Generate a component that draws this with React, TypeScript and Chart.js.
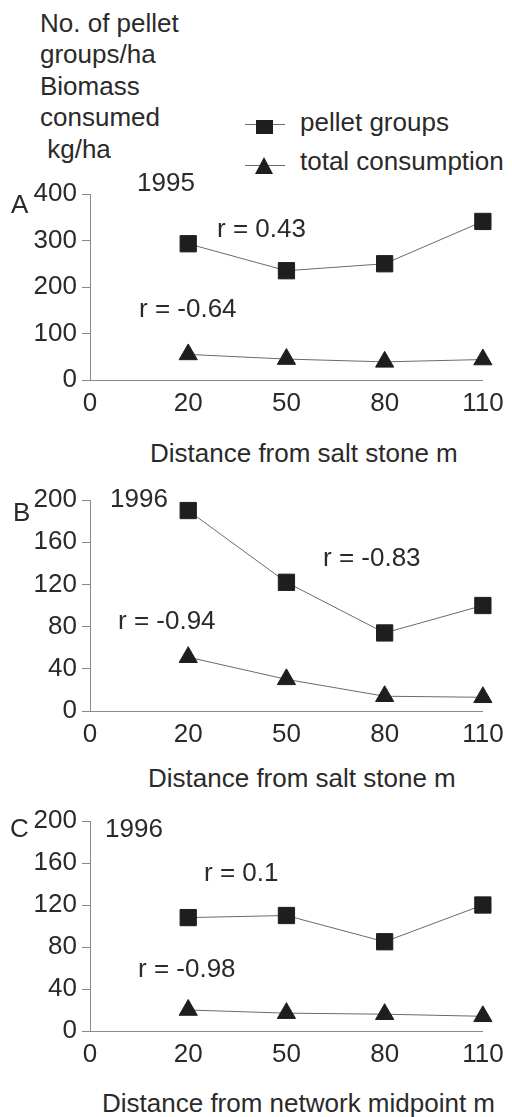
import React, { useEffect, useRef } from 'react';
import { Chart, registerables } from 'chart.js';

Chart.register(...registerables);

// ---------- data ----------
const distanceLabels = ['0', '20', '50', '80', '110'];

const pelletA = [null, 293, 235, 250, 341];
const consumptionA = [null, 55, 45, 39, 44];

const pelletB = [null, 190, 122, 74, 100];
const consumptionB = [null, 51, 30, 14, 13];

const pelletC = [null, 108, 110, 85, 120];
const consumptionC = [null, 20, 17, 16, 14];

const yTicksA = [0, 100, 200, 300, 400];
const yTicksBC = [0, 40, 80, 120, 160, 200];

const seriesNames = ['pellet groups', 'total consumption'];
const headerLines = ['No. of pellet', 'groups/ha', 'Biomass', 'consumed', ' kg/ha'];

// ---------- style ----------
const FONT = "'Liberation Sans', Arial, Helvetica, sans-serif";
const FS = 26;
const TEXT = '#2a2a2a';
const LINE = '#6a6a6a';
const MARK = '#1e1e1e';
const AXIS = '#8a8a8a';

type PanelProps = {
  pellet: (number | null)[];
  consumption: (number | null)[];
  yTicks: number[];
  canvasTop: number;
  plotTop: number;
  plotBottom: number;
};

const X_AREA = 45;

function Panel({ pellet, consumption, yTicks, canvasTop, plotTop, plotBottom }: PanelProps) {
  const ref = useRef<HTMLCanvasElement | null>(null);
  const H = plotBottom - canvasTop + X_AREA;
  useEffect(() => {
    if (!ref.current) return;
    const yMin = yTicks[0];
    const yMax = yTicks[yTicks.length - 1];
    const step = yTicks[1] - yTicks[0];
    const chart = new Chart(ref.current, {
      type: 'line',
      data: {
        labels: distanceLabels,
        datasets: [
          {
            label: seriesNames[0],
            data: pellet,
            borderColor: LINE,
            borderWidth: 1,
            pointStyle: 'rect',
            pointRadius: 11.5,
            pointBackgroundColor: MARK,
            pointBorderColor: MARK,
            pointBorderWidth: 1,
            clip: false,
          },
          {
            label: seriesNames[1],
            data: consumption,
            borderColor: LINE,
            borderWidth: 1,
            pointStyle: 'triangle',
            pointRadius: 10.5,
            pointBackgroundColor: MARK,
            pointBorderColor: MARK,
            pointBorderWidth: 1,
            clip: false,
          },
        ],
      },
      options: {
        animation: false,
        responsive: false,
        devicePixelRatio: 1,
        events: [],
        layout: { padding: { top: plotTop - canvasTop, right: 25, left: 0, bottom: 0 } },
        plugins: { legend: { display: false }, tooltip: { enabled: false }, title: { display: false } },
        scales: {
          x: {
            type: 'category',
            offset: false,
            grid: { display: false, drawTicks: false },
            border: { display: true, color: AXIS, width: 1 },
            ticks: {
              autoSkip: false,
              maxRotation: 0,
              padding: 24 - 0.6 * FS,
              color: TEXT,
              font: { family: FONT, size: FS },
            },
            afterFit: (s: any) => {
              s.height = X_AREA;
            },
          },
          y: {
            min: yMin,
            max: yMax,
            grid: { drawOnChartArea: false, drawTicks: true, tickLength: 8, color: AXIS, lineWidth: 1 },
            border: { display: true, color: AXIS, width: 1 },
            ticks: {
              stepSize: step,
              padding: 5,
              color: TEXT,
              font: { family: FONT, size: FS },
            },
            afterFit: (s: any) => {
              s.width = 90;
            },
          },
        },
      },
    } as any);
    return () => chart.destroy();
  }, []);
  return (
    <canvas
      ref={ref}
      width={512}
      height={H}
      style={{ position: 'absolute', left: 0, top: canvasTop, width: 512, height: H }}
    />
  );
}

// text placed by left edge and vertical cap centre
function Txt({ x, cy, children, size = FS }: { x: number; cy: number; children: React.ReactNode; size?: number }) {
  return (
    <div
      style={{
        position: 'absolute',
        left: x,
        top: cy - 0.4885 * size,
        fontFamily: FONT,
        fontSize: size,
        lineHeight: `${size}px`,
        color: TEXT,
        whiteSpace: 'pre',
      }}
    >
      {children}
    </div>
  );
}

export default function App() {
  return (
    <div style={{ position: 'absolute', left: 0, top: 0, width: 512, height: 1117, background: '#fff', overflow: 'hidden' }}>
      {headerLines.map((l, i) => (
        <Txt key={i} x={40} cy={22.5 + i * 31.5}>
          {l}
        </Txt>
      ))}

      {/* legend */}
      <div style={{ position: 'absolute', left: 245, top: 124, width: 40, height: 1, background: LINE }} />
      <div style={{ position: 'absolute', left: 256, top: 120, width: 17, height: 14, background: MARK }} />
      <Txt x={300} cy={122}>{seriesNames[0]}</Txt>
      <div style={{ position: 'absolute', left: 245, top: 165, width: 40, height: 1, background: LINE }} />
      <div
        style={{
          position: 'absolute',
          left: 255,
          top: 157,
          width: 0,
          height: 0,
          borderLeft: '9px solid transparent',
          borderRight: '9px solid transparent',
          borderBottom: `17px solid ${MARK}`,
        }}
      />
      <Txt x={300} cy={160.5}>{seriesNames[1]}</Txt>

      {/* panel A */}
      <Panel pellet={pelletA} consumption={consumptionA} yTicks={yTicksA} canvasTop={164} plotTop={194} plotBottom={380} />
      <Txt x={137} cy={182}>1995</Txt>
      <Txt x={11} cy={204}>A</Txt>
      <Txt x={217} cy={228}>r = 0.43</Txt>
      <Txt x={139} cy={308}>r = -0.64</Txt>
      <Txt x={150} cy={452.5}>Distance from salt stone m</Txt>

      {/* panel B */}
      <Panel pellet={pelletB} consumption={consumptionB} yTicks={yTicksBC} canvasTop={470} plotTop={500} plotBottom={711} />
      <Txt x={13} cy={512}>B</Txt>
      <Txt x={110} cy={498}>1996</Txt>
      <Txt x={323} cy={557}>r = -0.83</Txt>
      <Txt x={118} cy={620}>r = -0.94</Txt>
      <Txt x={148} cy={777.5}>Distance from salt stone m</Txt>

      {/* panel C */}
      <Panel pellet={pelletC} consumption={consumptionC} yTicks={yTicksBC} canvasTop={791} plotTop={821} plotBottom={1031} />
      <Txt x={10} cy={828}>C</Txt>
      <Txt x={105} cy={828}>1996</Txt>
      <Txt x={204} cy={872}>r = 0.1</Txt>
      <Txt x={138} cy={968}>r = -0.98</Txt>
      <Txt x={102} cy={1102.5}>Distance from network midpoint m</Txt>
    </div>
  );
}
